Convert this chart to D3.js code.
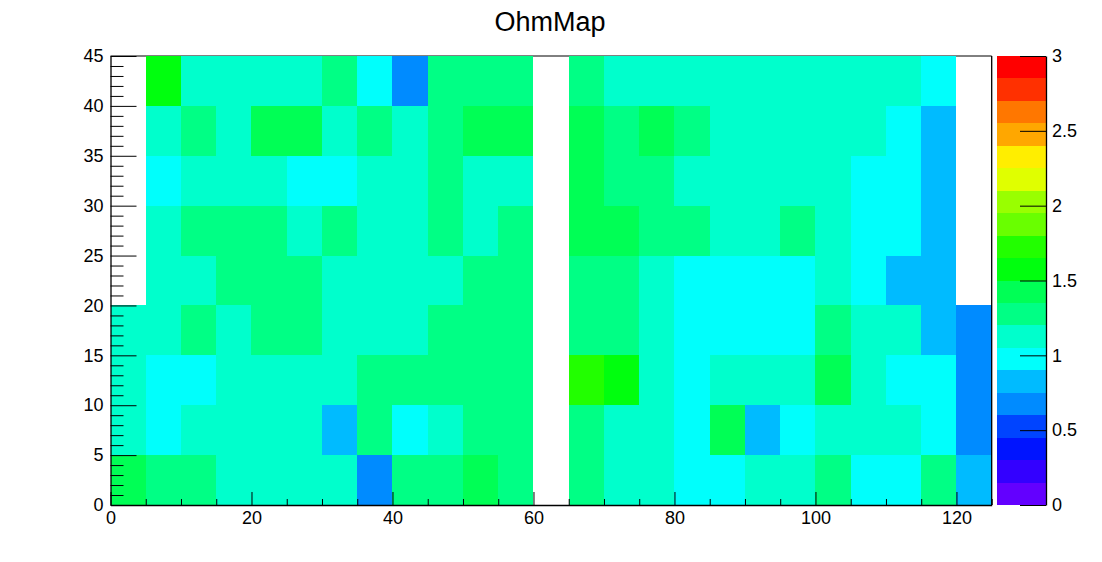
<!DOCTYPE html>
<html>
<head>
<meta charset="utf-8">
<script src="https://cdn.jsdelivr.net/npm/d3@7"></script>
<style>
  html, body { margin: 0; padding: 0; background: #fff; }
  svg { display: block; }
  text { font-family: "Liberation Sans", Arial, Helvetica, sans-serif; fill: #000; }
</style>
</head>
<body>
<svg id="chart" width="1102" height="562"></svg>
<script>
// ---------------- DATA ----------------
const title = "OhmMap";
// lower edges of bins
const xBinLow = [0,5,10,15,20,25,30,35,40,45,50,55,60,65,70,75,80,85,90,95,100,105,110,115,120];
const yBinLow = [0,5,10,15,20,25,30,35,40];
const binW = 5, binH = 5;
// cell values, one array per y row (bottom to top); null = empty bin
const row_y0  = [1.42,1.27,1.27,1.12,1.12,1.12,1.12,0.68,1.27,1.27,1.42,1.27,null,1.27,1.12,1.12,0.97,0.97,1.12,1.12,1.27,0.97,0.97,1.27,0.83];
const row_y5  = [1.12,0.97,1.12,1.12,1.12,1.12,0.83,1.27,0.97,1.12,1.27,1.27,null,1.27,1.12,1.12,0.97,1.42,0.83,0.97,1.12,1.12,1.12,0.97,0.68];
const row_y10 = [1.12,0.97,0.97,1.12,1.12,1.12,1.12,1.27,1.27,1.27,1.27,1.27,null,1.72,1.57,1.12,0.97,1.12,1.12,1.12,1.42,1.12,0.97,0.97,0.68];
const row_y15 = [1.12,1.12,1.27,1.12,1.27,1.27,1.12,1.12,1.12,1.27,1.27,1.27,null,1.27,1.27,1.12,0.97,0.97,0.97,0.97,1.27,1.12,1.12,0.83,0.68];
const row_y20 = [null,1.12,1.12,1.27,1.27,1.27,1.12,1.12,1.12,1.12,1.27,1.27,null,1.27,1.27,1.12,0.97,0.97,0.97,0.97,1.12,0.97,0.83,0.83,null];
const row_y25 = [null,1.12,1.27,1.27,1.27,1.12,1.27,1.12,1.12,1.27,1.12,1.27,null,1.42,1.42,1.27,1.27,1.12,1.12,1.27,1.12,0.97,0.97,0.83,null];
const row_y30 = [null,0.97,1.12,1.12,1.12,0.97,0.97,1.12,1.12,1.27,1.12,1.12,null,1.42,1.27,1.27,1.12,1.12,1.12,1.12,1.12,0.97,0.97,0.83,null];
const row_y35 = [null,1.12,1.27,1.12,1.42,1.42,1.12,1.27,1.12,1.27,1.42,1.42,null,1.42,1.27,1.42,1.27,1.12,1.12,1.12,1.12,1.12,0.97,0.83,null];
const row_y40 = [null,1.57,1.12,1.12,1.12,1.12,1.27,0.97,0.68,1.27,1.27,1.27,null,1.27,1.12,1.12,1.12,1.12,1.12,1.12,1.12,1.12,1.12,0.97,null];
const rows = [row_y0,row_y5,row_y10,row_y15,row_y20,row_y25,row_y30,row_y35,row_y40];

const xTicks = [0,20,40,60,80,100,120];
const yTicks = [0,5,10,15,20,25,30,35,40,45];
const zTicks = [0,0.5,1,1.5,2,2.5,3];
const xDomain = [0,125], yDomain = [0,45], zDomain = [0,3];
const nContours = 20;

// ---------------- LAYOUT ----------------
const svg = d3.select("#chart");
const fr = {left: 110.5, right: 991.7, top: 56, bottom: 505};
const pal = {left: 997, right: 1046};

const x = d3.scaleLinear().domain(xDomain).range([fr.left, fr.right]);
const y = d3.scaleLinear().domain(yDomain).range([fr.bottom, fr.top]);

// ROOT "pretty" palette (50 colours, hue 280 -> 0), sampled for 20 contours
const rootPal = d3.range(50).map(i => d3.hsl(280 - (i + 1) * (280 / 50), 1, 0.5).formatHex());
const contourColors = d3.range(nContours).map(k => rootPal[Math.floor((k + 0.99) * 50 / nContours)]);
const color = d3.scaleQuantize().domain(zDomain).range(contourColors);

// ---------------- CELLS ----------------
const cells = [];
rows.forEach((r, j) => r.forEach((v, i) => {
  if (v !== null) cells.push({x0: xBinLow[i], y0: yBinLow[j], v});
}));

// top frame line (under cells)
svg.append("line").attr("x1", fr.left).attr("x2", fr.right).attr("y1", fr.top).attr("y2", fr.top)
  .attr("stroke", "#000").attr("stroke-width", 1);

svg.append("g").attr("shape-rendering", "crispEdges")
  .selectAll("rect").data(cells).join("rect")
  .attr("x", d => x(d.x0))
  .attr("y", d => y(d.y0 + binH))
  .attr("width", d => x(d.x0 + binW) - x(d.x0))
  .attr("height", d => y(d.y0) - y(d.y0 + binH))
  .attr("fill", d => color(d.v));

// right frame line
svg.append("line").attr("x1", fr.right).attr("x2", fr.right).attr("y1", fr.top).attr("y2", fr.bottom)
  .attr("stroke", "#000").attr("stroke-width", 1.3);

// ---------------- AXES ----------------
const fontSize = 18;
function styleAxis(g) {
  g.selectAll("path.domain").attr("stroke", "#000").attr("stroke-width", 1.3);
  g.selectAll(".tick line").attr("stroke", "#000").attr("stroke-width", 1);
  g.selectAll("text").attr("font-size", fontSize).attr("fill", "#000")
    .attr("font-family", "'Liberation Sans', Arial, Helvetica, sans-serif");
}

// minor x ticks
const xMinor = d3.range(xDomain[0], xDomain[1] + 0.001, 5).filter(v => !xTicks.includes(v));
svg.append("g").attr("transform", `translate(0,${fr.bottom})`)
  .call(d3.axisBottom(x).tickValues(xMinor).tickSize(-6).tickSizeOuter(0).tickFormat(""))
  .call(g => g.select(".domain").remove())
  .call(styleAxis);
// major x axis
svg.append("g").attr("transform", `translate(0,${fr.bottom})`)
  .call(d3.axisBottom(x).tickValues(xTicks).tickSize(-13).tickSizeOuter(0).tickPadding(6).tickFormat(d3.format("d")))
  .call(styleAxis);

// minor y ticks
const yMinor = d3.range(yDomain[0], yDomain[1] + 0.001, 1).filter(v => !yTicks.includes(v));
svg.append("g").attr("transform", `translate(${fr.left},0)`)
  .call(d3.axisLeft(y).tickValues(yMinor).tickSize(-13).tickSizeOuter(0).tickFormat(""))
  .call(g => g.select(".domain").remove())
  .call(styleAxis);
// major y axis
svg.append("g").attr("transform", `translate(${fr.left},0)`)
  .call(d3.axisLeft(y).tickValues(yTicks).tickSize(-26).tickSizeOuter(0).tickPadding(7).tickFormat(d3.format("d")))
  .call(styleAxis);

// ---------------- PALETTE ----------------
const z = d3.scaleLinear().domain(zDomain).range([fr.bottom, fr.top]);
const bands = color.thresholds();
const bandEdges = [zDomain[0], ...bands, zDomain[1]];
svg.append("g").attr("shape-rendering", "crispEdges")
  .selectAll("rect").data(contourColors).join("rect")
  .attr("x", pal.left)
  .attr("width", pal.right - pal.left)
  .attr("y", (c, k) => z(bandEdges[k + 1]))
  .attr("height", (c, k) => z(bandEdges[k]) - z(bandEdges[k + 1]))
  .attr("fill", c => c);

svg.append("g").attr("transform", `translate(${pal.right},0)`)
  .call(d3.axisRight(z).tickValues(zTicks).tickSize(-26).tickSizeOuter(0).tickPadding(6).tickFormat(d3.format("~g")))
  .call(styleAxis);

// ---------------- TITLE ----------------
svg.append("text")
  .attr("x", 550).attr("y", 31)
  .attr("text-anchor", "middle")
  .attr("font-size", 27)
  .text(title);
</script>
</body>
</html>
